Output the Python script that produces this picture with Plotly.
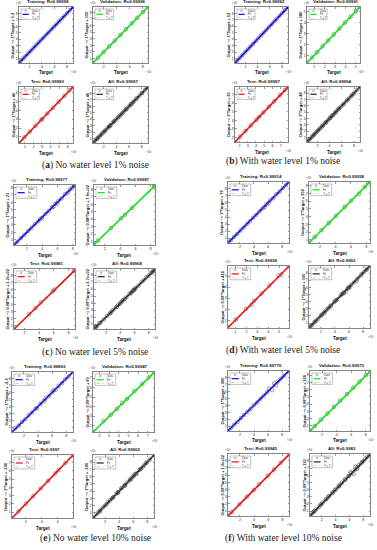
import plotly.graph_objects as go

W, H = 377, 550

# ================= DATA (targets / outputs in units of 10^4) =================
# (a) No water level 1% noise
a_train_t = [0.31, 0.57, 0.98, 1.34, 1.77, 2.19, 2.62, 3.04, 3.46, 3.88, 4.27, 4.71, 5.13, 5.56, 5.95, 6.37, 6.78, 7.22, 7.63, 8.05, 8.49, 8.98]
a_train_y = [0.31, 0.57, 0.98, 1.34, 1.77, 2.19, 2.62, 3.04, 3.47, 3.88, 4.27, 4.71, 5.13, 5.56, 5.95, 6.37, 6.78, 7.22, 7.63, 8.05, 8.49, 8.98]
a_val_t = [0.33, 1.14, 1.96, 2.83, 3.69, 4.57, 5.42, 6.31, 7.16, 8.03, 8.78]
a_val_y = [0.35, 1.15, 1.98, 2.84, 3.71, 4.58, 5.44, 6.32, 7.18, 8.04, 8.80]
a_test_t = [0.32, 0.94, 1.57, 2.25, 2.91, 3.03, 3.62, 4.29, 4.95, 5.61, 6.23, 6.62]
a_test_y = [0.32, 0.95, 1.57, 2.26, 2.91, 3.03, 3.63, 4.29, 4.96, 5.61, 6.24, 6.62]

# (b) With water level 1% noise
b_train_t = [0.30, 0.66, 1.09, 1.52, 1.96, 2.41, 2.83, 3.27, 3.71, 4.14, 4.58, 5.02, 5.45, 5.89, 6.33, 6.76, 7.18, 7.63, 8.07, 8.51, 8.97]
b_train_y = [0.31, 0.66, 1.10, 1.52, 1.96, 2.41, 2.84, 3.27, 3.71, 4.15, 4.58, 5.02, 5.46, 5.89, 6.33, 6.77, 7.18, 7.64, 8.07, 8.52, 8.97]
b_val_t = [0.30, 0.77, 1.26, 1.81, 2.34, 2.87, 3.41, 3.96, 4.49, 5.02, 5.38]
b_val_y = [0.32, 0.79, 1.28, 1.83, 2.36, 2.89, 3.42, 3.98, 4.51, 5.04, 5.40]
b_test_t = [1.46, 2.08, 2.73, 3.39, 4.06, 4.38, 4.91, 5.58, 6.24, 6.93, 7.55, 7.88]
b_test_y = [1.46, 2.09, 2.73, 3.40, 4.06, 4.39, 4.91, 5.59, 6.24, 6.94, 7.55, 7.89]

# (c) No water level 5% noise
c_train_t = [0.31, 0.76, 1.22, 1.69, 2.14, 2.58, 3.03, 3.48, 3.74, 3.96, 4.41, 4.87, 5.28, 5.49, 5.72, 5.94, 6.15, 6.57, 7.01, 7.33, 7.64, 7.96, 8.27]
c_train_y = [0.33, 0.74, 1.24, 1.67, 2.17, 2.55, 3.06, 3.45, 3.78, 3.92, 4.44, 4.84, 5.33, 5.42, 5.79, 5.87, 6.19, 6.52, 7.06, 7.28, 7.69, 7.91, 8.30]
c_val_t = [0.56, 1.09, 2.78, 4.13, 4.64, 5.57, 8.46, 8.57]
c_val_y = [0.62, 1.15, 2.80, 4.12, 4.60, 5.53, 8.38, 8.52]
c_test_t = [0.57, 2.62, 3.51, 4.22, 5.86, 6.07, 8.72, 8.89]
c_test_y = [0.60, 2.59, 3.48, 4.26, 5.80, 6.04, 8.66, 8.84]

# (d) With water level 5% noise
d_train_t = [0.30, 0.71, 1.16, 1.62, 2.07, 2.53, 2.98, 3.42, 3.88, 4.33, 4.79, 5.24, 5.51, 5.78, 6.05, 6.31, 6.74, 7.19, 7.66, 8.11, 8.56, 8.98]
d_train_y = [0.32, 0.70, 1.18, 1.60, 2.09, 2.51, 3.01, 3.40, 3.91, 4.31, 4.82, 5.21, 5.42, 5.83, 5.96, 6.37, 6.70, 7.23, 7.62, 8.14, 8.53, 8.99]
d_val_t = [0.58, 1.32, 2.21, 3.15, 4.06, 5.18, 6.02, 7.08, 7.81, 8.43]
d_val_y = [0.62, 1.35, 2.25, 3.18, 4.10, 5.23, 6.05, 6.95, 7.85, 8.47]
d_test_t = [0.31, 1.04, 1.98, 2.46, 2.71, 3.38, 4.12, 4.96, 5.21, 5.88]
d_test_y = [0.35, 1.07, 2.04, 2.41, 2.77, 3.42, 4.17, 5.05, 5.14, 5.91]

# (e) No water level 10% noise
e_train_t = [0.30, 0.79, 1.26, 1.73, 2.21, 2.69, 3.15, 3.62, 3.84, 4.33, 4.81, 5.06, 5.52, 5.98, 6.21, 6.49, 6.93, 7.41, 7.88, 8.36, 8.97]
e_train_y = [0.30, 0.86, 1.22, 1.76, 2.17, 2.73, 3.11, 3.66, 3.77, 4.37, 4.76, 5.14, 5.47, 6.03, 6.32, 6.41, 6.97, 7.36, 7.92, 8.33, 8.97]
e_val_t = [1.33, 2.41, 3.17, 3.82, 4.36, 4.84, 5.61, 6.44, 7.12, 7.65]
e_val_y = [1.36, 2.47, 3.14, 3.78, 4.41, 4.80, 5.63, 6.39, 7.08, 7.62]
e_test_t = [0.31, 1.12, 2.03, 2.96, 3.88, 4.79, 5.74, 6.12, 6.98, 7.92]
e_test_y = [0.29, 1.10, 2.01, 2.94, 3.86, 4.77, 5.70, 6.11, 6.96, 7.90]

# (f) With water level 10% noise
f_train_t = [0.30, 0.74, 1.19, 1.66, 2.13, 2.58, 3.04, 3.51, 3.97, 4.44, 4.91, 5.37, 5.84, 6.14, 6.58, 6.87, 7.12, 7.36, 7.82, 8.29, 8.96]
f_train_y = [0.33, 0.77, 1.23, 1.62, 2.17, 2.61, 3.08, 3.47, 4.02, 4.41, 4.95, 5.40, 5.89, 6.45, 6.21, 7.18, 6.92, 7.42, 7.85, 8.33, 8.98]
f_val_t = [0.31, 0.96, 1.83, 2.71, 3.62, 4.48, 5.39, 6.27, 7.15, 8.02, 8.58]
f_val_y = [0.34, 0.99, 1.86, 2.72, 3.63, 4.50, 5.40, 6.28, 7.14, 8.01, 8.56]
f_test_t = [0.32, 0.88, 1.94, 2.97, 3.95, 4.67, 5.93, 6.81, 7.74, 8.92]
f_test_y = [0.35, 0.92, 1.95, 2.99, 3.93, 4.71, 5.90, 6.79, 7.71, 8.88]

# R titles per panel (Training, Validation, Test, All)
a_titles = ["Training: R=0.99998", "Validation: R=0.99996", "Test: R=0.99993", "All: R=0.99997"]
b_titles = ["Training: R=0.99992", "Validation: R=0.99991", "Test: R=0.99997", "All: R=0.99994"]
c_titles = ["Training: R=0.99977", "Validation: R=0.99987", "Test: R=0.99981", "All: R=0.99968"]
d_titles = ["Training: R=0.99914", "Validation: R=0.99958", "Test: R=0.99938", "All: R=0.9993"]
e_titles = ["Training: R=0.99893", "Validation: R=0.99947", "Test: R=0.9997", "All: R=0.99902"]
f_titles = ["Training: R=0.99776", "Validation: R=0.99973", "Test: R=0.99945", "All: R=0.9983"]

# Fit slope / intercept (intercept in raw units)
a_slope = [1, 1, 1, 1];            a_icpt = [1.3, 150, 46, 40]
b_slope = [1, 1, 1, 1];            b_icpt = [53, 180, 25, 48]
c_slope = [1, 0.98, 0.98, 0.99];   c_icpt = [21, 790, 120, 370]
d_slope = [1, 1, 0.99, 1];         d_icpt = [79, 250, 410, 160]
e_slope = [1, 0.99, 1, 1];         e_icpt = [-3.2, 93, -130, -100]
f_slope = [1, 0.99, 0.99, 0.99];   f_icpt = [300, 160, 130, 110]

a_ylab = ["Output ~= 1*Target + 1.3", "Output ~= 1*Target + 150", "Output ~= 1*Target + 46", "Output ~= 1*Target + 40"]
b_ylab = ["Output ~= 1*Target + 53", "Output ~= 1*Target + 180", "Output ~= 1*Target + 25", "Output ~= 1*Target + 48"]
c_ylab = ["Output ~= 1*Target + 21", "Output ~= 0.98*Target + 7.9e+02", "Output ~= 0.98*Target + 1.2e+02", "Output ~= 0.99*Target + 3.7e+02"]
d_ylab = ["Output ~= 1*Target + 79", "Output ~= 1*Target + 250", "Output ~= 0.99*Target + 410", "Output ~= 1*Target + 160"]
e_ylab = ["Output ~= 1*Target + -3.2", "Output ~= 0.99*Target + 93", "Output ~= 1*Target + -130", "Output ~= 1*Target + -100"]
f_ylab = ["Output ~= 1*Target + 300", "Output ~= 0.99*Target + 160", "Output ~= 0.99*Target + 1.3e+02", "Output ~= 0.99*Target + 110"]

captions = [("a", "No water level 1% noise"), ("b", "With water level 1% noise"),
            ("c", "No water level 5% noise"), ("d", "With water level 5% noise"),
            ("e", "No water level 10% noise"), ("f", "With water level 10% noise")]

# tick steps (x, y) per subplot (Training, Validation, Test, All)
a_dt = [(2, 1), (2, 1), (1, 1), (2, 1)]
b_dt = [(2, 1), (1, 1), (1, 1), (2, 1)]
c_dt = [(2, 1), (2, 1), (2, 1), (2, 1)]
d_dt = [(2, 1), (2, 1), (1, 1), (2, 1)]
e_dt = [(2, 1), (1, 1), (2, 1), (2, 1)]
f_dt = [(2, 1), (2, 1), (2, 1), (2, 1)]

# ================= LAYOUT GEOMETRY (pixels) =================
geom = {
    "a": dict(boxes=[(19, 7, 73, 63), (93, 7, 148, 63), (19, 87, 73, 143), (93, 87, 148, 143)], cap=(95, 165)),
    "b": dict(boxes=[(235, 7, 288, 63), (307, 7, 360, 63), (235, 87, 288, 142), (307, 87, 360, 142)], cap=(283, 161)),
    "c": dict(boxes=[(14, 185, 75, 245), (94, 185, 155, 245), (14, 269, 75, 329), (94, 269, 155, 329)], cap=(95, 352)),
    "d": dict(boxes=[(228, 182, 289, 243), (309, 182, 370, 243), (228, 266, 289, 328), (309, 266, 370, 328)], cap=(283, 350)),
    "e": dict(boxes=[(12, 372, 73, 432), (93, 372, 154, 432), (12, 455, 73, 518), (93, 455, 154, 518)], cap=(95, 538)),
    "f": dict(boxes=[(228, 371, 289, 431), (310, 371, 370, 431), (228, 454, 289, 516), (310, 454, 370, 516)], cap=(283, 538)),
}

panel_data = {
    "a": ([(a_train_t, a_train_y), (a_val_t, a_val_y), (a_test_t, a_test_y)], a_titles, a_slope, a_icpt, a_ylab, a_dt),
    "b": ([(b_train_t, b_train_y), (b_val_t, b_val_y), (b_test_t, b_test_y)], b_titles, b_slope, b_icpt, b_ylab, b_dt),
    "c": ([(c_train_t, c_train_y), (c_val_t, c_val_y), (c_test_t, c_test_y)], c_titles, c_slope, c_icpt, c_ylab, c_dt),
    "d": ([(d_train_t, d_train_y), (d_val_t, d_val_y), (d_test_t, d_test_y)], d_titles, d_slope, d_icpt, d_ylab, d_dt),
    "e": ([(e_train_t, e_train_y), (e_val_t, e_val_y), (e_test_t, e_test_y)], e_titles, e_slope, e_icpt, e_ylab, e_dt),
    "f": ([(f_train_t, f_train_y), (f_val_t, f_val_y), (f_test_t, f_test_y)], f_titles, f_slope, f_icpt, f_ylab, f_dt),
}

fit_colors = ["#0000ff", "#00ee00", "#ff0000", "#222222"]
SANS = "Liberation Sans, Arial, sans-serif"


def px(x):
    return x / W


def py(y):
    return 1 - y / H


fig = go.Figure()
annotations = []
shapes = []
layout_axes = {}

n = 0
for key in "abcdef":
    sets, titles, slopes, icpts, ylabs, dts = panel_data[key]
    all_t = sets[0][0] + sets[1][0] + sets[2][0]
    all_y = sets[0][1] + sets[1][1] + sets[2][1]
    subsets = sets + [(all_t, all_y)]
    for k in range(4):
        n += 1
        t, y = subsets[k]
        x0, y0, x1, y1 = geom[key]["boxes"][k]
        lo = min(min(t), min(y))
        hi = max(max(t), max(y))
        xr = f"x{n}" if n > 1 else "x"
        yr = f"y{n}" if n > 1 else "y"
        xa = f"xaxis{n}" if n > 1 else "xaxis"
        ya = f"yaxis{n}" if n > 1 else "yaxis"
        col = fit_colors[k]
        m, b = slopes[k], icpts[k] / 1e4
        # data
        fig.add_trace(go.Scatter(x=t, y=y, mode="markers", xaxis=xr, yaxis=yr, showlegend=False,
                                 marker=dict(symbol="circle-open", size=3.6, color="#555555", line=dict(width=0.6))))
        # fit
        fig.add_trace(go.Scatter(x=[lo, hi], y=[m * lo + b, m * hi + b], mode="lines", xaxis=xr, yaxis=yr,
                                 showlegend=False, line=dict(color=col, width=1.6)))
        # Y = T
        fig.add_trace(go.Scatter(x=[lo, hi], y=[lo, hi], mode="lines", xaxis=xr, yaxis=yr, showlegend=False,
                                 line=dict(color="#888888", width=0.5, dash="dot")))
        dx, dy = dts[k]
        common = dict(showline=True, mirror="ticks", linecolor="#333333", linewidth=0.6, ticks="inside",
                      ticklen=1.5, tickwidth=0.5, tickcolor="#333333", showgrid=False, zeroline=False,
                      tickfont=dict(size=3.6, family=SANS, color="#222222"), tickmode="linear", tick0=0,
                      fixedrange=True)
        layout_axes[xa] = dict(domain=[px(x0), px(x1)], range=[lo, hi], anchor=yr, dtick=dx, **common)
        layout_axes[ya] = dict(domain=[py(y1), py(y0)], range=[lo, hi], anchor=xr, dtick=dy, **common)

        cx = (x0 + x1) / 2
        cy = (y0 + y1) / 2
        # title
        annotations.append(dict(x=px(cx + 2), y=py(y0 - 1.2), xref="paper", yref="paper", text="<b>" + titles[k] + "</b>",
                                showarrow=False, xanchor="center", yanchor="bottom",
                                font=dict(size=4.4, family=SANS, color="#111111")))
        # y label
        annotations.append(dict(x=px(x0 - 6.5), y=py(cy), xref="paper", yref="paper", text="<b>" + ylabs[k] + "</b>",
                                showarrow=False, textangle=-90, xanchor="center", yanchor="middle",
                                font=dict(size=4.0, family=SANS, color="#111111")))
        # x label
        annotations.append(dict(x=px(cx), y=py(y1 + 5.5), xref="paper", yref="paper", text="<b>Target</b>",
                                showarrow=False, xanchor="center", yanchor="top",
                                font=dict(size=4.6, family=SANS, color="#111111")))
        # exponent labels
        annotations.append(dict(x=px(x0 + 0.5), y=py(y0 - 0.1), xref="paper", yref="paper", text="×10<sup>4</sup>",
                                showarrow=False, xanchor="center", yanchor="bottom",
                                font=dict(size=2.8, family=SANS, color="#333333")))
        annotations.append(dict(x=px(x1 + 1), y=py(y1 + 5), xref="paper", yref="paper", text="×10<sup>4</sup>",
                                showarrow=False, xanchor="center", yanchor="top",
                                font=dict(size=2.8, family=SANS, color="#333333")))
        # legend
        w = x1 - x0
        h = y1 - y0
        lx0, ly0 = x0 + 2, y0 + 2
        lw, lh = 0.34 * w, 0.19 * h
        shapes.append(dict(type="rect", xref="paper", yref="paper", x0=px(lx0), x1=px(lx0 + lw),
                           y0=py(ly0 + lh), y1=py(ly0), line=dict(color="#666666", width=0.4), fillcolor="white"))
        rows = [ly0 + lh / 6, ly0 + lh / 2, ly0 + 5 * lh / 6]
        ix0, ix1 = lx0 + 0.08 * lw, lx0 + 0.42 * lw
        icx = (ix0 + ix1) / 2
        shapes.append(dict(type="circle", xref="paper", yref="paper", x0=px(icx - 0.9), x1=px(icx + 0.9),
                           y0=py(rows[0] + 0.9), y1=py(rows[0] - 0.9), line=dict(color="#555555", width=0.4)))
        shapes.append(dict(type="line", xref="paper", yref="paper", x0=px(ix0), x1=px(ix1),
                           y0=py(rows[1]), y1=py(rows[1]), line=dict(color=col, width=1.2)))
        shapes.append(dict(type="line", xref="paper", yref="paper", x0=px(ix0), x1=px(ix1),
                           y0=py(rows[2]), y1=py(rows[2]), line=dict(color="#888888", width=0.4, dash="dot")))
        for r, txt in zip(rows, ["Data", "Fit", "Y = T"]):
            annotations.append(dict(x=px(lx0 + 0.5 * lw), y=py(r), xref="paper", yref="paper", text=txt,
                                    showarrow=False, xanchor="left", yanchor="middle",
                                    font=dict(size=2.8, family=SANS, color="#333333")))

# captions
for letter, text in captions:
    cx, cy = geom[letter]["cap"]
    annotations.append(dict(x=px(cx), y=py(cy), xref="paper", yref="paper",
                            text=f"(<b>{letter}</b>) {text}", showarrow=False, xanchor="center", yanchor="middle",
                            font=dict(size=9.5, family="Liberation Serif, Times New Roman, serif", color="#222222")))

fig.update_layout(width=W, height=H, margin=dict(l=0, r=0, t=0, b=0), paper_bgcolor="white",
                  plot_bgcolor="white", showlegend=False, annotations=annotations, shapes=shapes, **layout_axes)

fig.write_html("out.html", config={"displayModeBar": False, "staticPlot": True},
               post_script="document.body.style.margin='0px';document.body.style.overflow='hidden';")
